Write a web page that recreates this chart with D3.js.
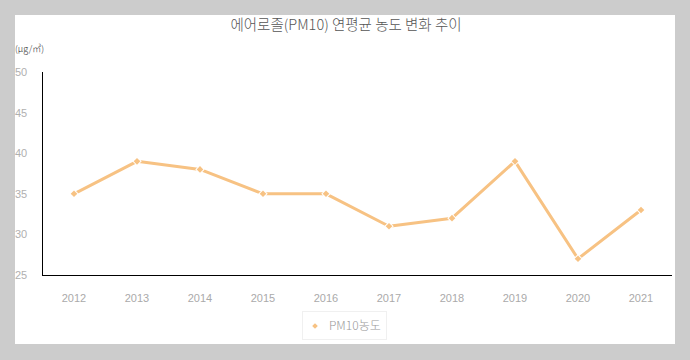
<!DOCTYPE html>
<html><head><meta charset="utf-8">
<script src="https://cdn.jsdelivr.net/npm/d3@7"></script>
<style>body{margin:0;background:#cccccc;}svg{display:block;font-family:"Liberation Sans",Arial,sans-serif;}</style>
</head><body>
<svg id="c" width="690" height="360"></svg>
<script>
const years = ["2012","2013","2014","2015","2016","2017","2018","2019","2020","2021"];
const pm10 = [35,39,38,35,35,31,32,39,27,33];
const yTicks = [25,30,35,40,45,50];
const seriesName = "PM10농도";
const titleText = "에어로졸(PM10) 연평균 농도 변화 추이";
const unitText = "(μg/㎥)";
const color = "#f7c283";

const svg = d3.select("#c");
svg.append("rect").attr("x",15).attr("y",15).attr("width",660).attr("height",329).attr("fill","#fff");

const x = d3.scalePoint().domain(years).range([74,641]);
const y = d3.scaleLinear().domain([25,50]).range([275,72]);

svg.append("text").attr("x",346).attr("y",30).attr("text-anchor","middle")
  .attr("font-size",14.5).attr("font-weight",300).attr("fill","#555").attr("font-family","'Noto Sans CJK KR',sans-serif").text(titleText);
svg.append("text").attr("x",15).attr("y",52).attr("font-size",9).attr("font-weight",300).attr("fill","#333")
  .attr("font-family","'Noto Sans CJK KR',sans-serif").text(unitText);

// y tick labels
svg.selectAll(".yt").data(yTicks).join("text").attr("x",15).attr("y",d=>y(d)+4)
  .attr("font-size",11).attr("fill","#b0b0b0").text(d=>d);
// axes lines
svg.append("line").attr("x1",42.5).attr("x2",42.5).attr("y1",72).attr("y2",275.5).attr("stroke","#000").attr("stroke-width",1);
svg.append("line").attr("x1",42).attr("x2",672).attr("y1",275.5).attr("y2",275.5).attr("stroke","#000").attr("stroke-width",1);
// x labels
svg.selectAll(".xt").data(years).join("text").attr("x",d=>x(d)).attr("y",302).attr("text-anchor","middle")
  .attr("font-size",11).attr("fill","#aaa").text(d=>d);

const pts = years.map((d,i)=>[x(d),y(pm10[i])]);
const line = d3.line();
svg.append("path").attr("d",line(pts)).attr("fill","none").attr("stroke",color).attr("stroke-width",3).attr("stroke-linejoin","round");
svg.selectAll(".m").data(pts).join("path").attr("transform",d=>`translate(${d[0]},${d[1]}) rotate(45)`)
  .attr("d",d3.symbol().type(d3.symbolSquare).size(22)).attr("fill",color).attr("stroke","#fff").attr("stroke-width",2).attr("paint-order","stroke");

// legend
svg.append("rect").attr("x",302.5).attr("y",311.5).attr("width",84).attr("height",28).attr("fill","#fff").attr("stroke","#f0f0f0");
svg.append("path").attr("transform","translate(315,326) rotate(45)").attr("d",d3.symbol().type(d3.symbolSquare).size(16)).attr("fill",color);
svg.append("text").attr("x",329).attr("y",330).attr("font-size",12).attr("font-weight",300).attr("fill","#999")
  .attr("font-family","'Noto Sans CJK KR',sans-serif").text(seriesName);
</script>
</body></html>
